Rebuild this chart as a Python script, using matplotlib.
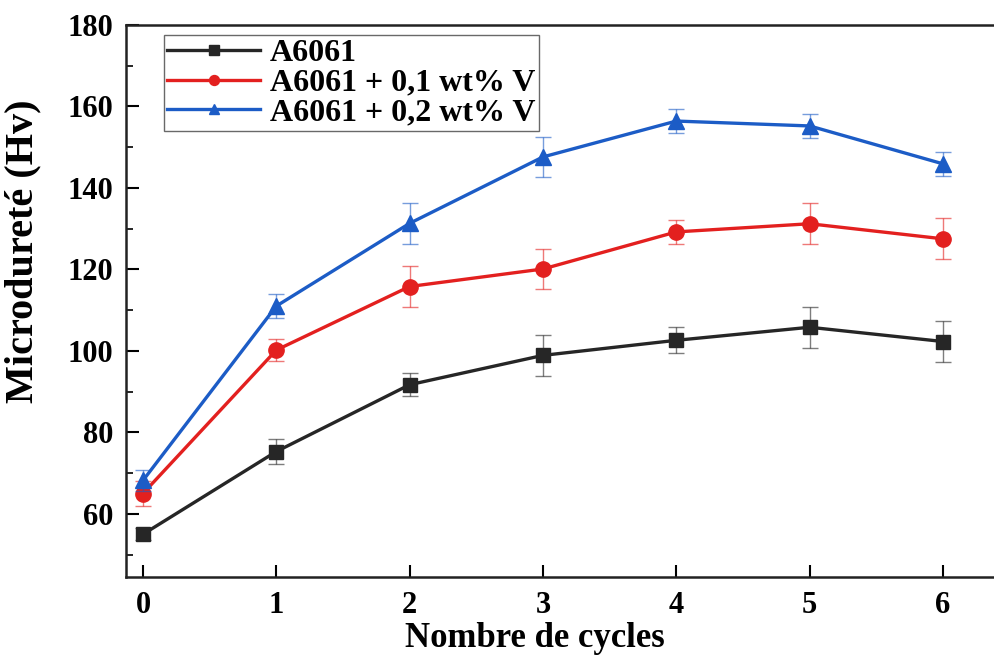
import matplotlib
matplotlib.use("Agg")
import matplotlib.pyplot as plt
from matplotlib.ticker import MultipleLocator

# Microhardness vs number of ECAP cycles
cycles = [0, 1, 2, 3, 4, 5, 6]

labels = ["A6061", "A6061 + 0,1 wt% V", "A6061 + 0,2 wt% V"]

hv_base = [55.0, 75.3, 91.7, 98.9, 102.6, 105.8, 102.3]
hv_01v = [65.0, 100.2, 115.8, 120.1, 129.2, 131.2, 127.5]
hv_02v = [68.2, 111.0, 131.3, 147.6, 156.4, 155.2, 145.9]

err_base = [1.5, 3.0, 2.8, 5.0, 3.2, 5.0, 5.0]
err_01v = [3.0, 2.8, 5.0, 5.0, 3.0, 5.0, 5.0]
err_02v = [2.5, 3.0, 5.0, 5.0, 3.0, 3.0, 3.0]

plt.rcParams["font.family"] = ["Liberation Serif", "DejaVu Serif"]
plt.rcParams["font.weight"] = "bold"

fig = plt.figure(figsize=(9.95, 6.55), dpi=100)
ax = fig.add_axes([0.1266, 0.119, 0.8734, 0.843])

styles = [
    (hv_base, err_base, "#262626", "s", 10),
    (hv_01v, err_01v, "#e3201f", "o", 11),
    (hv_02v, err_02v, "#1c5cc6", "^", 11),
]

for (vals, errs, color, marker, ms), lab in zip(styles, labels):
    # thin error bars underneath, then the series line with markers
    ax.errorbar(cycles, vals, yerr=errs, fmt="none", ecolor=color,
                elinewidth=1.0, capsize=6, capthick=1.0, alpha=0.6)
    ax.plot(cycles, vals, color=color, lw=2.4, marker=marker,
            markersize=ms, label=lab)

ax.set_xlim(-0.1275, 6.39)
ax.set_ylim(44.5, 180)
ax.set_xticks(cycles)
ax.set_yticks([60, 80, 100, 120, 140, 160, 180])
ax.yaxis.set_minor_locator(MultipleLocator(10))

ax.tick_params(axis="both", which="major", direction="in", length=9,
               width=1.5, labelsize=22, pad=9)
ax.tick_params(axis="y", which="minor", direction="in", length=5, width=1.2)
ax.tick_params(axis="x", which="major", pad=10)

for side in ["left", "bottom", "top"]:
    ax.spines[side].set_linewidth(1.8)
    ax.spines[side].set_color("#222222")
ax.spines["right"].set_visible(False)

ax.set_xlabel("Nombre de cycles", fontsize=25, fontweight="bold")
ax.set_ylabel("Microdureté (Hv)", fontsize=29, fontweight="bold")
ax.xaxis.set_label_coords(0.471, -0.082)
ax.yaxis.set_label_coords(-0.097, 0.59)

leg = ax.legend(loc="upper left", bbox_to_anchor=(0.036, 0.993),
                fontsize=23, frameon=True, fancybox=False,
                handlelength=2.9, handletextpad=0.3, borderpad=0.12,
                labelspacing=0.0, markerscale=0.65, borderaxespad=0.2)
leg.get_frame().set_edgecolor("#444444")
leg.get_frame().set_linewidth(1.0)
for t in leg.get_texts():
    t.set_fontweight("bold")

fig.savefig("out.png", dpi=100)
